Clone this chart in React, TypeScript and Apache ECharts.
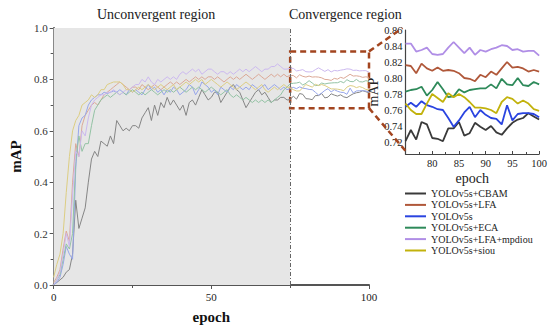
import React, { useEffect, useRef } from "react";
import * as echarts from "echarts";

const epochs: number[] = Array.from({ length: 101 }, (_, i) => i);

const seriesNames = [
  "YOLOv5s+CBAM",
  "YOLOv5s+LFA",
  "YOLOv5s",
  "YOLOv5s+ECA",
  "YOLOv5s+LFA+mpdiou",
  "YOLOv5s+siou",
];

const cbam = [
  0.00, 0.01, 0.02, 0.03, 0.05, 0.06, 0.12, 0.33, 0.22, 0.26, 0.30, 0.40, 0.49, 0.52, 0.50, 0.56, 0.55, 0.54, 0.58, 0.55,
  0.64, 0.62, 0.60, 0.61, 0.60, 0.62, 0.62, 0.61, 0.65, 0.67, 0.69, 0.64, 0.70, 0.66, 0.71, 0.69, 0.73, 0.70, 0.72, 0.70,
  0.68, 0.70, 0.66, 0.71, 0.72, 0.70, 0.73, 0.76, 0.74, 0.72, 0.73, 0.75, 0.75, 0.71, 0.73, 0.75, 0.77, 0.78, 0.76, 0.75,
  0.72, 0.69, 0.71, 0.73, 0.75, 0.76, 0.74, 0.75, 0.73, 0.71, 0.72, 0.72, 0.73, 0.73, 0.72,
  0.721, 0.735, 0.723, 0.745, 0.742, 0.725, 0.724, 0.721, 0.737, 0.737, 0.745, 0.728, 0.731, 0.744, 0.739, 0.735, 0.740,
  0.732, 0.729, 0.737, 0.744, 0.748, 0.750, 0.756, 0.752, 0.748,
];
const lfa = [
  0.01, 0.03, 0.06, 0.14, 0.21, 0.17, 0.40, 0.55, 0.50, 0.62, 0.66, 0.68, 0.70, 0.71, 0.70, 0.72, 0.74, 0.75, 0.76, 0.77,
  0.78, 0.79, 0.78, 0.77, 0.76, 0.77, 0.77, 0.76, 0.78, 0.77, 0.76, 0.77, 0.78, 0.77, 0.76, 0.77, 0.78, 0.79, 0.78, 0.79,
  0.78, 0.79, 0.80, 0.79, 0.80, 0.81, 0.80, 0.81, 0.80, 0.81, 0.81, 0.80, 0.81, 0.80, 0.79, 0.80, 0.81, 0.80, 0.81, 0.80,
  0.81, 0.82, 0.81, 0.80, 0.81, 0.82, 0.81, 0.80, 0.81, 0.82, 0.81, 0.82, 0.81, 0.82, 0.81,
  0.816, 0.815, 0.806, 0.818, 0.812, 0.809, 0.813, 0.809, 0.810, 0.809, 0.806, 0.800, 0.799, 0.796, 0.804, 0.801, 0.808,
  0.804, 0.812, 0.820, 0.813, 0.814, 0.812, 0.808, 0.810, 0.808,
];
const v5s = [
  0.00, 0.01, 0.03, 0.08, 0.15, 0.12, 0.10, 0.45, 0.62, 0.65, 0.66, 0.70, 0.72, 0.73, 0.74, 0.74, 0.75, 0.745, 0.75, 0.755,
  0.75, 0.76, 0.75, 0.74, 0.76, 0.75, 0.76, 0.75, 0.74, 0.76, 0.78, 0.76, 0.77, 0.75, 0.76, 0.74, 0.76, 0.75, 0.77, 0.76,
  0.74, 0.75, 0.76, 0.78, 0.77, 0.74, 0.76, 0.79, 0.78, 0.77, 0.75, 0.76, 0.74, 0.77, 0.76, 0.75, 0.77, 0.76, 0.78, 0.77,
  0.76, 0.77, 0.76, 0.78, 0.77, 0.76, 0.77, 0.78, 0.76, 0.77, 0.78, 0.77, 0.76, 0.77, 0.76,
  0.764, 0.769, 0.764, 0.771, 0.766, 0.764, 0.761, 0.760, 0.750, 0.739, 0.747, 0.757, 0.764, 0.751, 0.760, 0.754, 0.750,
  0.749, 0.742, 0.766, 0.747, 0.755, 0.756, 0.756, 0.755, 0.751,
];
const eca = [
  0.00, 0.02, 0.04, 0.10, 0.16, 0.14, 0.20, 0.48, 0.58, 0.52, 0.55, 0.55, 0.62, 0.68, 0.70, 0.72, 0.73, 0.74, 0.73, 0.74,
  0.75, 0.74, 0.75, 0.74, 0.75, 0.76, 0.75, 0.74, 0.75, 0.74, 0.75, 0.76, 0.75, 0.74, 0.75, 0.76, 0.75, 0.76, 0.75, 0.76,
  0.77, 0.76, 0.75, 0.76, 0.77, 0.76, 0.77, 0.76, 0.75, 0.76, 0.77, 0.76, 0.75, 0.74, 0.75, 0.76, 0.74, 0.73, 0.74, 0.73,
  0.72, 0.73, 0.72, 0.71, 0.72, 0.71, 0.72, 0.71, 0.72, 0.71, 0.72, 0.73, 0.74, 0.76, 0.77,
  0.783, 0.785, 0.786, 0.789, 0.778, 0.785, 0.795, 0.786, 0.776, 0.777, 0.786, 0.782, 0.785, 0.786, 0.787, 0.787, 0.792,
  0.787, 0.799, 0.792, 0.791, 0.800, 0.791, 0.790, 0.795, 0.792,
];
const mpdiou = [
  0.00, 0.02, 0.05, 0.12, 0.20, 0.15, 0.35, 0.52, 0.50, 0.60, 0.58, 0.65, 0.70, 0.72, 0.73, 0.74, 0.74, 0.75, 0.75, 0.76,
  0.75, 0.74, 0.75, 0.76, 0.76, 0.77, 0.78, 0.78, 0.80, 0.79, 0.81, 0.79, 0.78, 0.80, 0.79, 0.80, 0.81, 0.80, 0.81, 0.80,
  0.82, 0.83, 0.82, 0.83, 0.84, 0.83, 0.84, 0.82, 0.83, 0.84, 0.84, 0.83, 0.82, 0.83, 0.83, 0.82, 0.83, 0.82, 0.83, 0.84,
  0.83, 0.84, 0.83, 0.84, 0.85, 0.84, 0.83, 0.84, 0.84, 0.85, 0.85, 0.86, 0.85, 0.84, 0.84,
  0.843, 0.843, 0.833, 0.835, 0.838, 0.830, 0.829, 0.830, 0.838, 0.845, 0.838, 0.831, 0.838, 0.829, 0.835, 0.833, 0.836,
  0.838, 0.841, 0.840, 0.835, 0.836, 0.833, 0.834, 0.834, 0.828,
];
const siou = [
  0.03, 0.08, 0.12, 0.20, 0.36, 0.50, 0.60, 0.64, 0.66, 0.70, 0.71, 0.72, 0.74, 0.73, 0.74, 0.76, 0.76, 0.78, 0.785, 0.79,
  0.79, 0.79, 0.78, 0.76, 0.76, 0.75, 0.76, 0.77, 0.76, 0.77, 0.78, 0.77, 0.76, 0.77, 0.78, 0.77, 0.76, 0.77, 0.78, 0.76,
  0.77, 0.78, 0.79, 0.78, 0.79, 0.80, 0.79, 0.80, 0.78, 0.79, 0.80, 0.79, 0.78, 0.77, 0.78, 0.79, 0.78, 0.77, 0.76, 0.77,
  0.78, 0.79, 0.78, 0.77, 0.76, 0.77, 0.78, 0.76, 0.75, 0.76, 0.77, 0.76, 0.77, 0.78, 0.77,
  0.768, 0.760, 0.755, 0.755, 0.768, 0.780, 0.775, 0.770, 0.781, 0.776, 0.780, 0.776, 0.770, 0.763, 0.763, 0.762, 0.760,
  0.756, 0.770, 0.776, 0.774, 0.768, 0.772, 0.768, 0.761, 0.759,
];

const seriesValues = [cbam, lfa, v5s, eca, mpdiou, siou];
const insetColors = ["#3a3a3a", "#b0583a", "#2a44e0", "#2e8a5a", "#b08ee6", "#c2b20c"];
const mainColors = ["#858585", "#dba896", "#97a6ea", "#93c2a4", "#cbb8ef", "#dccd82"];

const yTicksMain = [0, 0.2, 0.4, 0.6, 0.8, 1.0];
const splitEpoch = 75;
const zoomBox = { yLow: 0.688, yHigh: 0.909 };
const insetRange = { min: 0.705, max: 0.86 };
const titleAt = { unconv: 32.5, conv: 92.5 };

const FONT = "'Liberation Serif', 'Times New Roman', serif";
const BOX = "#a3451f";

export default function App() {
  const ref = useRef<HTMLDivElement>(null);
  useEffect(() => {
    document.body.style.margin = "0";
    if (!ref.current) return;
    const chart = echarts.init(ref.current, undefined, { renderer: "svg" });
    const pair = (vals: number[], from: number) => epochs.slice(from).map((e, i) => [e, vals[from + i]]);

    const mainSeries: any[] = seriesValues.map((vals, i) => ({
      name: "main " + seriesNames[i],
      type: "line",
      xAxisIndex: 0,
      yAxisIndex: 0,
      data: pair(vals, 0),
      showSymbol: false,
      symbol: "none",
      z: 3,
      lineStyle: { color: mainColors[i], width: 1 },
      itemStyle: { color: mainColors[i] },
      silent: true,
    }));
    const insetSeries: any[] = seriesValues.map((vals, i) => ({
      name: seriesNames[i],
      type: "line",
      xAxisIndex: 1,
      yAxisIndex: 1,
      data: pair(vals, splitEpoch),
      showSymbol: false,
      symbol: "none",
      z: 3,
      lineStyle: { color: insetColors[i], width: 1.8 },
      itemStyle: { color: insetColors[i] },
      silent: true,
    }));

    const option: any = {
      animation: false,
      textStyle: { fontFamily: FONT },
      grid: [
        { left: 48, top: 28, width: 321, height: 257 },
        { left: 405.5, top: 30, width: 134, height: 124 },
      ],
      xAxis: [
        {
          gridIndex: 0,
          type: "value",
          min: 0,
          max: 100,
          interval: 50,
          name: "epoch",
          nameLocation: "middle",
          nameGap: 24,
          nameTextStyle: { fontFamily: FONT, fontSize: 15, fontWeight: "bold", color: "#111" },
          axisLine: { show: true, lineStyle: { color: "#555", width: 2 } },
          axisTick: { show: true, length: 4, lineStyle: { color: "#555" } },
          minorTick: { show: true, splitNumber: 2, length: 3, lineStyle: { color: "#555" } },
          axisLabel: { fontFamily: FONT, fontSize: 11, color: "#222", margin: 6 },
          splitLine: { show: false },
        },
        {
          gridIndex: 1,
          type: "value",
          min: 75,
          max: 100,
          interval: 5,
          name: "epoch",
          nameLocation: "middle",
          nameGap: 17,
          nameTextStyle: { fontFamily: FONT, fontSize: 14, color: "#222" },
          axisLine: { show: true, lineStyle: { color: "#444", width: 1.2 } },
          axisTick: { show: true, inside: true, length: 3, lineStyle: { color: "#444" } },
          minorTick: { show: true, splitNumber: 2, length: 2, lineStyle: { color: "#444" } },
          axisLabel: { fontFamily: FONT, fontSize: 10.5, color: "#222", margin: 4, showMinLabel: false },
          splitLine: { show: false },
        },
      ],
      yAxis: [
        {
          gridIndex: 0,
          type: "value",
          min: yTicksMain[0],
          max: yTicksMain[yTicksMain.length - 1],
          interval: 0.2,
          name: "mAP",
          nameLocation: "middle",
          nameGap: 26,
          nameTextStyle: { fontFamily: FONT, fontSize: 15, fontWeight: "bold", color: "#111" },
          axisLine: { show: true, lineStyle: { color: "#555", width: 2 } },
          axisTick: { show: true, length: 4, lineStyle: { color: "#555" } },
          minorTick: { show: true, splitNumber: 2, length: 3, lineStyle: { color: "#555" } },
          axisLabel: { fontFamily: FONT, fontSize: 11, color: "#333", margin: 6, formatter: (v: number) => v.toFixed(1) },
          splitLine: { show: false },
        },
        {
          gridIndex: 1,
          type: "value",
          min: insetRange.min,
          max: insetRange.max,
          interval: 0.005,
          name: "mAP",
          nameLocation: "middle",
          nameGap: 11,
          nameTextStyle: { fontFamily: FONT, fontSize: 14, color: "#222" },
          axisLine: { show: true, lineStyle: { color: "#444", width: 1.2 } },
          axisTick: { show: false },
          axisLabel: {
            fontFamily: FONT,
            fontSize: 10.5,
            color: "#222",
            margin: 3,
            formatter: (v: number) => (Math.round(v * 1000) % 20 === 0 ? v.toFixed(2) : ""),
          },
          splitLine: { show: false },
        },
      ],
      legend: {
        data: seriesNames,
        orient: "vertical",
        left: 405,
        top: 188,
        icon: "rect",
        itemWidth: 21,
        itemHeight: 2,
        itemGap: 0.4,
        padding: 0,
        selectedMode: false,
        textStyle: { fontFamily: FONT, fontSize: 10, color: "#222", lineHeight: 11 },
      },
      series: [
        ...insetSeries,
        {
          name: "background",
          type: "line",
          xAxisIndex: 0,
          yAxisIndex: 0,
          data: [],
          z: 1,
          silent: true,
          markArea: {
            silent: true,
            itemStyle: { color: "#e6e6e6" },
            data: [[{ xAxis: 0 }, { xAxis: splitEpoch }]],
          },
          markLine: {
            silent: true,
            symbol: "none",
            label: { show: false },
            lineStyle: { color: "#666", width: 1, type: [4, 2, 1, 2] },
            data: [{ xAxis: splitEpoch }],
          },
        },
        ...mainSeries,
        {
          name: "box",
          type: "line",
          xAxisIndex: 0,
          yAxisIndex: 0,
          data: [],
          z: 6,
          silent: true,
          markArea: {
            silent: true,
            itemStyle: { color: "rgba(0,0,0,0)", borderColor: BOX, borderWidth: 2.5, borderType: [6, 4] },
            data: [[{ xAxis: splitEpoch, yAxis: zoomBox.yHigh }, { xAxis: 100, yAxis: zoomBox.yLow }]],
          },
        },
      ],
    };
    chart.setOption(option);

    const a1 = chart.convertToPixel({ gridIndex: 0 } as any, [100, zoomBox.yHigh]) as number[];
    const a2 = chart.convertToPixel({ gridIndex: 0 } as any, [100, zoomBox.yLow]) as number[];
    const b1 = chart.convertToPixel({ gridIndex: 1 } as any, [splitEpoch, insetRange.max]) as number[];
    const b2 = chart.convertToPixel({ gridIndex: 1 } as any, [splitEpoch, insetRange.min]) as number[];
    const t1 = chart.convertToPixel({ gridIndex: 0 } as any, [titleAt.unconv, 1]) as number[];
    const t2 = chart.convertToPixel({ gridIndex: 0 } as any, [titleAt.conv, 1]) as number[];

    chart.setOption({
      graphic: [
        {
          type: "line",
          shape: { x1: a1[0], y1: a1[1], x2: b1[0] - 3, y2: b1[1] - 2 },
          style: { stroke: BOX, lineWidth: 2.5, lineDash: [6, 4] },
          z: 10,
        },
        {
          type: "line",
          shape: { x1: a2[0], y1: a2[1], x2: b2[0] + 1, y2: b2[1] - 2 },
          style: { stroke: BOX, lineWidth: 2.5, lineDash: [6, 4] },
          z: 10,
        },
        {
          type: "text",
          x: t1[0],
          y: 14,
          style: {
            text: "Unconvergent region",
            font: `14px ${FONT}`,
            fill: "#222",
            align: "center",
            verticalAlign: "middle",
          },
        },
        {
          type: "text",
          x: t2[0],
          y: 14,
          style: {
            text: "Convergence region",
            font: `14px ${FONT}`,
            fill: "#222",
            align: "center",
            verticalAlign: "middle",
          },
        },
      ],
    });

    return () => chart.dispose();
  }, []);
  return <div ref={ref} style={{ width: 550, height: 332 }} />;
}
